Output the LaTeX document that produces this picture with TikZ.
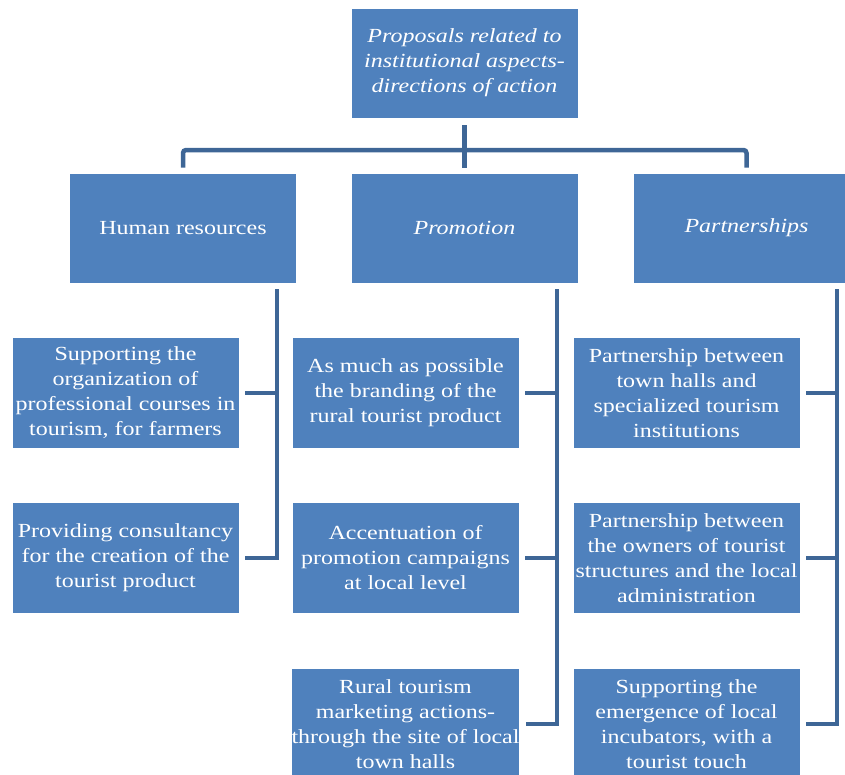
\documentclass[tikz,border=0pt]{standalone}
\usepackage{fontspec}
\setmainfont[FakeStretch = 1.2]{Liberation Serif}
\usetikzlibrary{positioning}
\definecolor{boxblue}{RGB}{79,129,189}
\definecolor{linkblue}{RGB}{62,102,150}
\tikzset{
    box/.style = {draw = white, line width = .6pt, fill = boxblue, text = white,
        minimum width = 227pt, minimum height = 111pt, inner sep = 0pt,
        align = center, font = \fontsize{20}{25}\selectfont},
    link/.style = {draw = linkblue, line width = 4.5pt}
}
\begin{document}
\begin{tikzpicture}[
        x = 1pt,
        y = -1pt
    ]
        \useasboundingbox (0,0) rectangle (845,774);
        \clip (0,0) rectangle (845,774);
        % top level
        \node[box, minimum height = 110pt] (prop) at (464.5, 63)
            {\itshape Proposals related to\\ \itshape institutional aspects-\\ \itshape directions of action};
        % second level
        \node[box, minimum height = 110pt] (hr)  at (183, 228)   {Human resources};
        \node[box, minimum height = 110pt] (pro) at (464.5, 228) {\itshape Promotion};
        \node[box, minimum height = 110pt] (prt) at (746.5, 228) {\itshape Partnerships};
        \coordinate (hub) at (465, 150);
        \draw[link] ([yshift=-7pt]prop.south) -- ([yshift=5pt]pro.north);
        \draw[link, rounded corners = 3pt] ([yshift=5pt]hr.north) |- (hub) -| ([yshift=5pt]prt.north);
        % human resources
        \begin{scope}
            \node[box] (hr1) at (125.5, 393) {Supporting the\\ organization of\\ professional courses in\\ tourism, for farmers};
            \node[box] (hr2) at (125.5, 558) {Providing consultancy\\ for the creation of the\\ tourist product};
            \coordinate (busA) at (277, 289);
            \draw[link] (busA) -- (busA |- hr2.east) -- ([xshift=6pt]hr2.east);
            \draw[link] ([xshift=6pt]hr1.east) -- (hr1.east -| busA);
        \end{scope}
        % promotion
        \begin{scope}
            \node[box] (pro1) at (405.5, 393) {As much as possible\\ the branding of the\\ rural tourist product};
            \node[box] (pro2) at (405.5, 558) {Accentuation of\\ promotion campaigns\\ at local level};
            \node[box] (pro3) at (405.5, 724) {Rural tourism\\ marketing actions-\\ through the site of local\\ town halls};
            \coordinate (busB) at (557, 289);
            \draw[link] (busB) -- (busB |- pro3.east) -- ([xshift=6pt]pro3.east);
            \draw[link] ([xshift=6pt]pro1.east) -- (pro1.east -| busB);
            \draw[link] ([xshift=6pt]pro2.east) -- (pro2.east -| busB);
        \end{scope}
        % partnerships
        \begin{scope}
            \node[box] (prt1) at (686.5, 393) {Partnership between\\ town halls and\\ specialized tourism\\ institutions};
            \node[box] (prt2) at (686.5, 558) {Partnership between\\ the owners of tourist\\ structures and the local\\ administration};
            \node[box] (prt3) at (686.5, 724) {Supporting the\\ emergence of local\\ incubators, with a\\ tourist touch};
            \coordinate (busC) at (837, 289);
            \draw[link] (busC) -- (busC |- prt3.east) -- ([xshift=6pt]prt3.east);
            \draw[link] ([xshift=6pt]prt1.east) -- (prt1.east -| busC);
            \draw[link] ([xshift=6pt]prt2.east) -- (prt2.east -| busC);
        \end{scope}
    \end{tikzpicture}
\end{document}
